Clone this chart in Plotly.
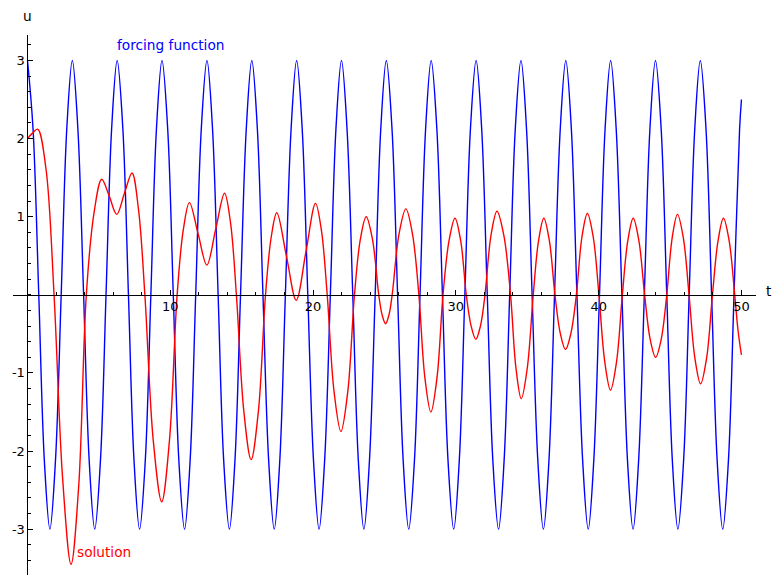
import plotly.graph_objects as go

# ---- data ----
# forcing function (blue)
blue_t = [
    0.00, 0.39, 0.79, 1.18, 1.57, 1.96, 2.36, 2.75,
    3.14, 3.53, 3.93, 4.32, 4.71, 5.11, 5.50, 5.89,
    6.28, 6.68, 7.07, 7.46, 7.85, 8.25, 8.64, 9.03,
    9.42, 9.82, 10.21, 10.60, 11.00, 11.39, 11.78, 12.17,
    12.57, 12.96, 13.35, 13.74, 14.14, 14.53, 14.92, 15.32,
    15.71, 16.10, 16.49, 16.89, 17.28, 17.67, 18.06, 18.46,
    18.85, 19.24, 19.63, 20.03, 20.42, 20.81, 21.21, 21.60,
    21.99, 22.38, 22.78, 23.17, 23.56, 23.95, 24.35, 24.74,
    25.13, 25.53, 25.92, 26.31, 26.70, 27.10, 27.49, 27.88,
    28.27, 28.67, 29.06, 29.45, 29.85, 30.24, 30.63, 31.02,
    31.42, 31.81, 32.20, 32.59, 32.99, 33.38, 33.77, 34.16,
    34.56, 34.95, 35.34, 35.74, 36.13, 36.52, 36.91, 37.31,
    37.70, 38.09, 38.48, 38.88, 39.27, 39.66, 40.06, 40.45,
    40.84, 41.23, 41.63, 42.02, 42.41, 42.80, 43.20, 43.59,
    43.98, 44.38, 44.77, 45.16, 45.55, 45.95, 46.34, 46.73,
    47.12, 47.52, 47.91, 48.30, 48.69, 49.09, 49.48, 49.87,
    50.00,
]
blue_u = [
    3, 2.12, 0, -2.12, -3, -2.12, 0, 2.12,
    3, 2.12, 0, -2.12, -3, -2.12, 0, 2.12,
    3, 2.12, 0, -2.12, -3, -2.12, 0, 2.12,
    3, 2.12, 0, -2.12, -3, -2.12, 0, 2.12,
    3, 2.12, 0, -2.12, -3, -2.12, 0, 2.12,
    3, 2.12, 0, -2.12, -3, -2.12, 0, 2.12,
    3, 2.12, 0, -2.12, -3, -2.12, 0, 2.12,
    3, 2.12, 0, -2.12, -3, -2.12, 0, 2.12,
    3, 2.12, 0, -2.12, -3, -2.12, 0, 2.12,
    3, 2.12, 0, -2.12, -3, -2.12, 0, 2.12,
    3, 2.12, 0, -2.12, -3, -2.12, 0, 2.12,
    3, 2.12, 0, -2.12, -3, -2.12, 0, 2.12,
    3, 2.12, 0, -2.12, -3, -2.12, 0, 2.12,
    3, 2.12, 0, -2.12, -3, -2.12, 0, 2.12,
    3, 2.12, 0, -2.12, -3, -2.12, 0, 2.12,
    3, 2.12, 0, -2.12, -3, -2.12, 0, 2.12,
    2.50,
]

# solution (red)
red_t = [
    0.00, 0.35, 0.71, 1.29, 1.86, 2.46, 3.05, 3.59, 4.12, 4.66,
    5.20, 5.73, 6.25, 6.79, 7.32, 7.77, 8.22, 8.81, 9.40, 9.94,
    10.48, 10.91, 11.34, 11.95, 12.56, 13.18, 13.80, 14.22, 14.63, 15.15,
    15.66, 16.17, 16.67, 17.07, 17.46, 18.14, 18.82, 19.50, 20.17, 20.58,
    20.99, 21.47, 21.95, 22.43, 22.90, 23.31, 23.72, 24.16, 24.60, 24.84,
    25.08, 25.31, 25.54, 26.02, 26.50, 26.96, 27.41, 27.83, 28.25, 28.68,
    29.10, 29.52, 29.94, 30.34, 30.73, 31.07, 31.40, 31.72, 32.04, 32.46,
    32.88, 33.36, 33.83, 34.21, 34.58, 35.00, 35.42, 35.79, 36.16, 36.55,
    36.94, 37.31, 37.68, 38.06, 38.44, 38.83, 39.21, 39.62, 40.02, 40.43,
    40.83, 41.25, 41.66, 42.04, 42.42, 42.82, 43.22, 43.61, 43.99, 44.38,
    44.77, 45.15, 45.52, 45.93, 46.33, 46.74, 47.14, 47.56, 47.97, 48.36,
    48.74, 49.14, 49.53, 49.77, 50.00,
]
red_u = [
    2.00, 2.07, 2.12, 1.62, 0.00, -2.35, -3.45, -2.44, 0.00, 1.05,
    1.48, 1.26, 1.03, 1.30, 1.56, 1.10, 0.00, -1.87, -2.65, -1.87,
    0.00, 0.83, 1.18, 0.78, 0.38, 0.84, 1.30, 0.92, 0.00, -1.49,
    -2.11, -1.49, 0.00, 0.74, 1.05, 0.49, -0.07, 0.55, 1.17, 0.83,
    0.00, -1.24, -1.75, -1.24, 0.00, 0.71, 1.00, 0.71, 0.00, -0.26,
    -0.37, -0.26, 0.00, 0.78, 1.10, 0.78, 0.00, -1.06, -1.50, -1.06,
    0.00, 0.69, 0.98, 0.69, 0.00, -0.40, -0.57, -0.40, 0.00, 0.76,
    1.07, 0.76, 0.00, -0.94, -1.33, -0.94, 0.00, 0.69, 0.98, 0.69,
    0.00, -0.49, -0.70, -0.49, 0.00, 0.74, 1.04, 0.74, 0.00, -0.86,
    -1.22, -0.86, 0.00, 0.69, 0.98, 0.69, 0.00, -0.57, -0.80, -0.57,
    0.00, 0.73, 1.03, 0.73, 0.00, -0.81, -1.14, -0.81, 0.00, 0.69,
    0.98, 0.69, 0.00, -0.47, -0.77,
]

x_tickvals = [10, 20, 30, 40, 50]
x_ticktext = ["10", "20", "30", "40", "50"]
y_tickvals = [-3, -2, -1, 1, 2, 3]
y_ticktext = ["-3", "-2", "-1", "1", "2", "3"]

FONT = "DejaVu Sans"
x_range = [-1.015, 51.02]
y_range = [-3.587, 3.326]

fig = go.Figure()
fig.add_trace(go.Scatter(x=blue_t, y=blue_u, mode="lines",
                         line=dict(color="#0000ff", width=1.4, shape="spline", smoothing=1.0),
                         hoverinfo="skip"))
fig.add_trace(go.Scatter(x=red_t, y=red_u, mode="lines",
                         line=dict(color="#ff0000", width=1.4, shape="spline", smoothing=1.0),
                         hoverinfo="skip"))

xpos = (0 - y_range[0]) / (y_range[1] - y_range[0])
ypos = (0 - x_range[0]) / (x_range[1] - x_range[0])

axis_common = dict(showgrid=False, zeroline=False, showline=True, linecolor="black",
                   linewidth=1, ticks="inside", tickcolor="black", tickwidth=1,
                   ticklen=5, tickfont=dict(family=FONT, size=13, color="black"),
                   automargin=False)

# the page body adds an 8px offset, margins compensate for it
fig.update_layout(
    width=781, height=585,
    margin=dict(l=5, r=33, t=27, b=18, pad=0),
    paper_bgcolor="white", plot_bgcolor="white",
    showlegend=False,
    xaxis=dict(range=x_range, anchor="free", position=xpos,
               tickmode="array", tickvals=x_tickvals, ticktext=x_ticktext,
               minor=dict(tickmode="linear", tick0=0, dtick=2, ticks="inside",
                          ticklen=3, tickcolor="black", tickwidth=1, showgrid=False),
               **axis_common),
    yaxis=dict(range=y_range, anchor="free", position=ypos,
               tickmode="array", tickvals=y_tickvals, ticktext=y_ticktext,
               minor=dict(tickmode="linear", tick0=0, dtick=0.2, ticks="inside",
                          ticklen=3, tickcolor="black", tickwidth=1, showgrid=False),
               **axis_common),
    annotations=[
        dict(x=10.01, y=3.20, xref="x", yref="y", text="forcing function", showarrow=False,
             font=dict(family=FONT, size=13.7, color="#0000ff"), xanchor="center", yanchor="middle"),
        dict(x=5.34, y=-3.29, xref="x", yref="y", text="solution", showarrow=False,
             font=dict(family=FONT, size=13.7, color="#ff0000"), xanchor="center", yanchor="middle"),
        dict(x=0, y=1, xref="x", yref="paper", text="u", showarrow=False, yshift=19,
             font=dict(family=FONT, size=13.7, color="black"), xanchor="center", yanchor="middle"),
        dict(x=1, y=0, xref="paper", yref="y", text="t", showarrow=False, xshift=13, yshift=4,
             font=dict(family=FONT, size=13.7, color="black"), xanchor="center", yanchor="middle"),
    ],
)

fig.write_html("out.html", config={"displayModeBar": False})
